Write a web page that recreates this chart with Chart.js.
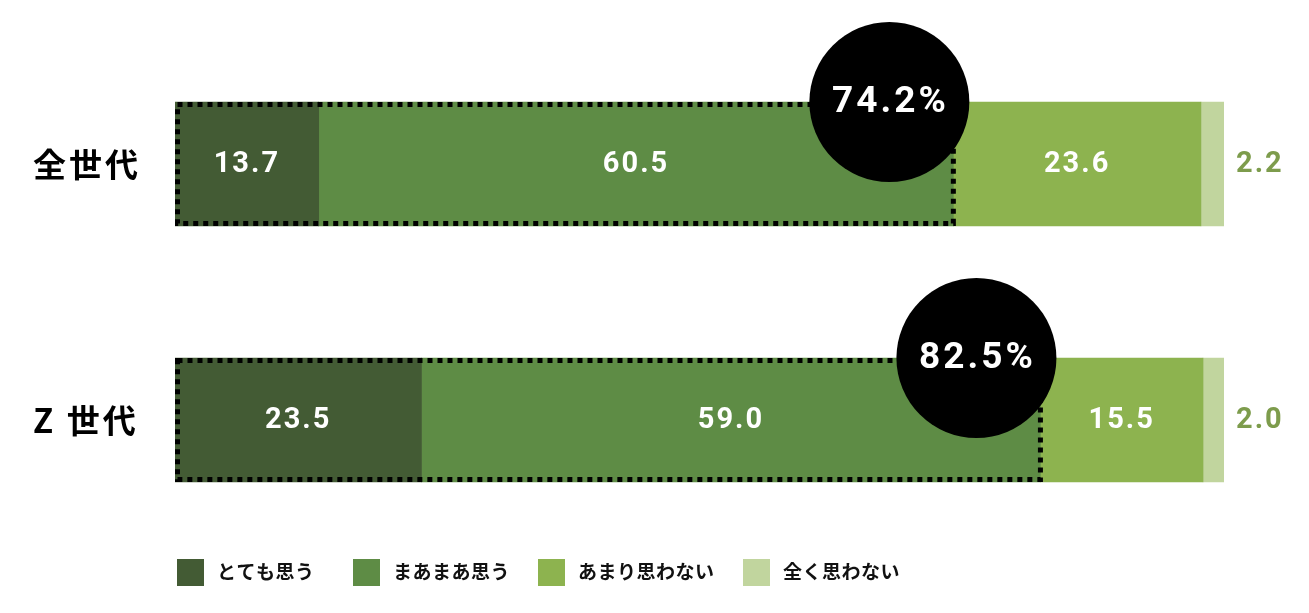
<!DOCTYPE html>
<html>
<head>
<meta charset="utf-8">
<script src="https://cdn.jsdelivr.net/npm/chart.js@4"></script>
<style>
  html, body { margin: 0; padding: 0; background: #fff; }
  #wrap { width: 1309px; height: 613px; }
</style>
</head>
<body>
<div id="wrap"><canvas id="surveyChart" width="1309" height="613"></canvas></div>
<script>
// Data
const categories = ['全世代', 'Z 世代'];
const seriesNames = ['とても思う', 'まあまあ思う', 'あまり思わない', '全く思わない'];
const veryMuch = [13.7, 23.5];
const somewhat = [60.5, 59.0];
const notMuch = [23.6, 15.5];
const notAtAll = [2.2, 2.0];
const agreeTotals = [74.2, 82.5];

const colors = ['#435b34', '#5e8c45', '#8db34f', '#c1d59e'];
const jpFont = '"Noto Sans CJK JP", "Noto Sans", sans-serif';
const numFont = 'Roboto, "DejaVu Sans", sans-serif';

// legend box positions (layout only)
const legendX = [177, 353, 538, 743];

// Labels, dotted outline and circles on top of the bars
const overlayPlugin = {
    id: 'overlay',
    beforeDraw(chart) {
        // wider spacing for the category tick labels
        chart.ctx.letterSpacing = '3px';
    },
    beforeDatasetsDraw(chart) {
        chart.ctx.letterSpacing = '0px';
    },
    afterDatasetsDraw(chart) {
        const ctx = chart.ctx;
        const xScale = chart.scales.x;

        // value labels
        chart.data.datasets.forEach((ds, di) => {
            const meta = chart.getDatasetMeta(di);
            meta.data.forEach((bar, i) => {
                const v = ds.data[i];
                ctx.save();
                ctx.font = 'bold 29px ' + numFont;
                ctx.letterSpacing = '2px';
                ctx.textBaseline = 'middle';
                if (di === 3) {
                    ctx.fillStyle = '#7d9c4c';
                    ctx.textAlign = 'left';
                    ctx.fillText(v.toFixed(1), chart.chartArea.right + 12, bar.y + 1);
                } else {
                    ctx.fillStyle = '#ffffff';
                    ctx.textAlign = 'center';
                    ctx.fillText(v.toFixed(1), (bar.x + bar.base) / 2, bar.y + 1);
                }
                ctx.restore();
            });
        });

        // dotted outline + circle
        const meta0 = chart.getDatasetMeta(0);
        meta0.data.forEach((bar, i) => {
            const top = bar.y - bar.height / 2;
            const bottom = bar.y + bar.height / 2;
            const left = xScale.getPixelForValue(0);
            const right = xScale.getPixelForValue(agreeTotals[i]);
            ctx.save();
            ctx.strokeStyle = '#000';
            ctx.lineWidth = 5;
            ctx.setLineDash([5, 5]);
            ctx.strokeRect(left + 2.5, top + 2.5, right - left - 2.5, bottom - top - 5);
            ctx.restore();

            const cx = right - 64;
            ctx.save();
            ctx.fillStyle = '#000';
            ctx.beginPath();
            ctx.arc(cx, top, 80, 0, Math.PI * 2);
            ctx.fill();
            ctx.fillStyle = '#fff';
            ctx.font = 'bold 37px ' + numFont;
            ctx.letterSpacing = '3px';
            ctx.textAlign = 'center';
            ctx.textBaseline = 'middle';
            ctx.fillText(agreeTotals[i].toFixed(1) + '%', cx + 1, top + 1);
            ctx.restore();
        });
    },
    afterDraw(chart) {
        // legend
        const ctx = chart.ctx;
        const y = 572;
        ctx.save();
        ctx.font = 'bold 19px ' + jpFont;
        ctx.letterSpacing = '0.5px';
        ctx.textBaseline = 'middle';
        chart.data.datasets.forEach((ds, k) => {
            const x = legendX[k];
            ctx.fillStyle = ds.backgroundColor;
            ctx.fillRect(x, y - 13, 27, 27);
            ctx.fillStyle = '#111';
            ctx.fillText(ds.label, x + 40, y);
        });
        ctx.restore();
    }
};

const ctx = document.getElementById('surveyChart').getContext('2d');
const surveyChart = new Chart(ctx, {
    type: 'bar',
    data: {
        labels: categories,
        datasets: [
            { label: seriesNames[0], data: veryMuch, backgroundColor: colors[0] },
            { label: seriesNames[1], data: somewhat, backgroundColor: colors[1] },
            { label: seriesNames[2], data: notMuch, backgroundColor: colors[2] },
            { label: seriesNames[3], data: notAtAll, backgroundColor: colors[3] },
        ],
    },
    options: {
        indexAxis: 'y',
        responsive: false,
        animation: false,
        layout: { padding: { left: 33, right: 85, top: 36, bottom: 65 } },
        datasets: { bar: { barThickness: 124, borderWidth: 0 } },
        plugins: {
            legend: { display: false },
            tooltip: { enabled: false },
        },
        scales: {
            x: {
                stacked: true,
                min: 0,
                max: 100,
                display: false,
            },
            y: {
                stacked: true,
                grid: { display: false },
                border: { display: false },
                ticks: {
                    color: '#000',
                    crossAlign: 'far',
                    font: { family: jpFont, size: 33, weight: 'bold' },
                },
                afterFit(scale) { scale.width = 142; },
            },
        },
    },
    plugins: [overlayPlugin],
});
</script>
</body>
</html>
